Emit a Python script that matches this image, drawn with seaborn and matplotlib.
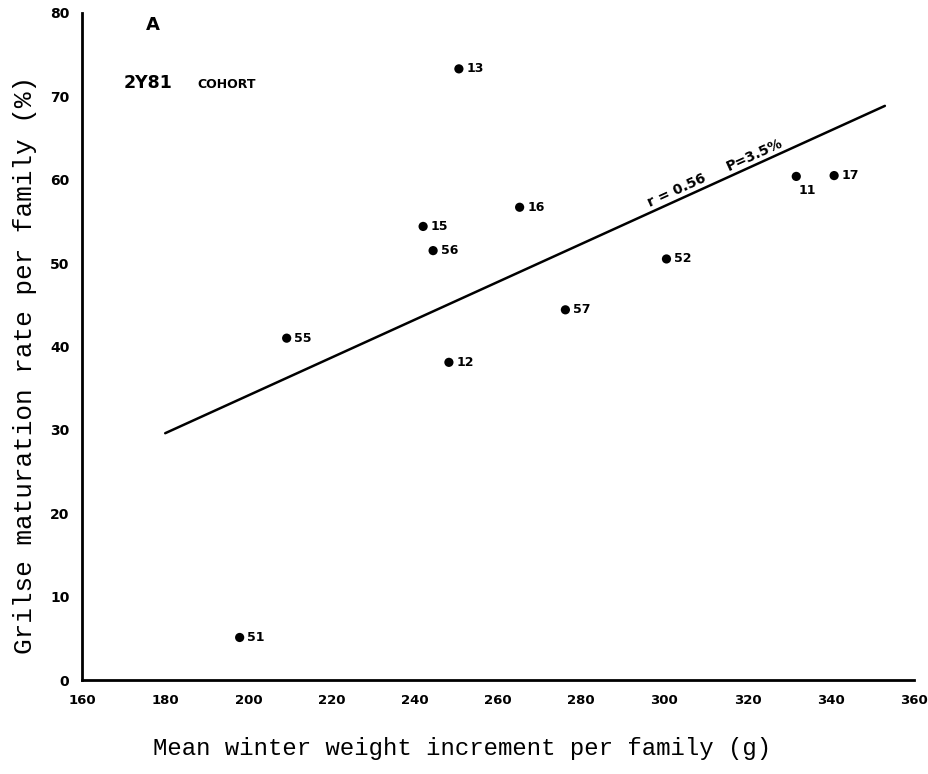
import numpy as np
import pandas as pd
import matplotlib
matplotlib.use("Agg")
import matplotlib.pyplot as plt
import seaborn as sns

# Family means for the 2Y81 cohort
families = ["51", "55", "15", "56", "13", "12", "16", "57", "52", "11", "17"]
weight_gain = [197.9, 209.2, 242.0, 244.4, 250.6, 248.2, 265.2, 276.2, 300.5, 331.7, 340.8]
grilse_rate = [5.1, 41.0, 54.4, 51.5, 73.3, 38.1, 56.7, 44.4, 50.5, 60.4, 60.5]

# Span over which the fitted line is drawn
fit_span = [180, 353]

x_ticks = list(range(160, 361, 20))
y_ticks = list(range(0, 81, 10))

df = pd.DataFrame({"family": families, "gain": weight_gain, "rate": grilse_rate})

slope, intercept = np.polyfit(df["gain"], df["rate"], 1)
fit = pd.DataFrame({"gain": fit_span})
fit["rate"] = intercept + slope * fit["gain"]

sns.set_style("white")
plt.rcParams["font.family"] = ["DejaVu Sans"]
plt.rcParams["text.color"] = "black"
plt.rcParams["xtick.color"] = "black"
plt.rcParams["ytick.color"] = "black"

W, H = 929, 774
fig = plt.figure(figsize=(W / 100, H / 100), dpi=100)
ax = fig.add_axes([82 / W, 1 - 680 / H, (914 - 82) / W, (680 - 13) / H])

sns.lineplot(data=fit, x="gain", y="rate", ax=ax, color="black", linewidth=1.8)
sns.scatterplot(data=df, x="gain", y="rate", ax=ax, color="black", s=44,
                edgecolor="none", zorder=3)

label_offsets = {"11": (1.5, -10.5)}
for fam, xv, yv in zip(df["family"], df["gain"], df["rate"]):
    off = label_offsets.get(fam, (5.5, 0))
    ax.annotate(fam, (xv, yv), xytext=off, textcoords="offset points",
                ha="left", va="center", fontsize=9, fontweight="bold",
                color="black")

ax.set_xlim(160, 360)
ax.set_ylim(0, 80)
ax.set_xticks(x_ticks)
ax.set_yticks(y_ticks)
ax.set_xticklabels([str(t) for t in x_ticks], fontsize=9.5, fontweight="bold")
ax.set_yticklabels([str(t) for t in y_ticks], fontsize=10, fontweight="bold")
ax.tick_params(axis="both", direction="inout", length=8, width=1.3,
               color="black", labelcolor="black")
ax.tick_params(axis="x", pad=6)
ax.tick_params(axis="y", pad=5)

for side in ["top", "right"]:
    ax.spines[side].set_visible(False)
for side in ["left", "bottom"]:
    ax.spines[side].set_linewidth(2.0)
    ax.spines[side].set_color("black")

ax.set_xlabel("")
ax.set_ylabel("")
fig.text(462 / W, 1 - 748 / H, "Mean winter weight increment per family (g)",
         family="Liberation Mono", fontsize=17.3, ha="center", va="center",
         color="black")
fig.text(25 / W, 1 - 365 / H, "Grilse maturation rate per family (%)",
         family="Liberation Mono", fontsize=18.8, ha="center", va="center",
         rotation=90, color="black")

# Panel and cohort captions
ax.text(153 / W, 1 - 25 / H, "A", transform=fig.transFigure, fontsize=13,
        fontweight="bold", ha="center", va="center")
ax.text(124 / W, 1 - 83 / H, "2Y81", transform=fig.transFigure, fontsize=12.5,
        fontweight="bold", ha="left", va="center")
ax.text(197 / W, 1 - 84 / H, "COHORT", transform=fig.transFigure, fontsize=9,
        fontweight="bold", ha="left", va="center")

# Statistics written along the fitted line
p0 = ax.transData.transform((0, 0))
px = ax.transData.transform((1, 0))
py = ax.transData.transform((0, 1))
angle = np.degrees(np.arctan2(slope * (py[1] - p0[1]), px[0] - p0[0]))
for txt, xv in [("r = 0.56", 303.7), ("P=3.5%", 322.5)]:
    yv = intercept + slope * xv
    ax.annotate(txt, (xv, yv), xytext=(0, 1.5), textcoords="offset points",
                ha="center", va="bottom", rotation=angle, rotation_mode="anchor",
                fontsize=10, fontweight="bold")

fig.savefig("out.png", dpi=100, facecolor="white")
